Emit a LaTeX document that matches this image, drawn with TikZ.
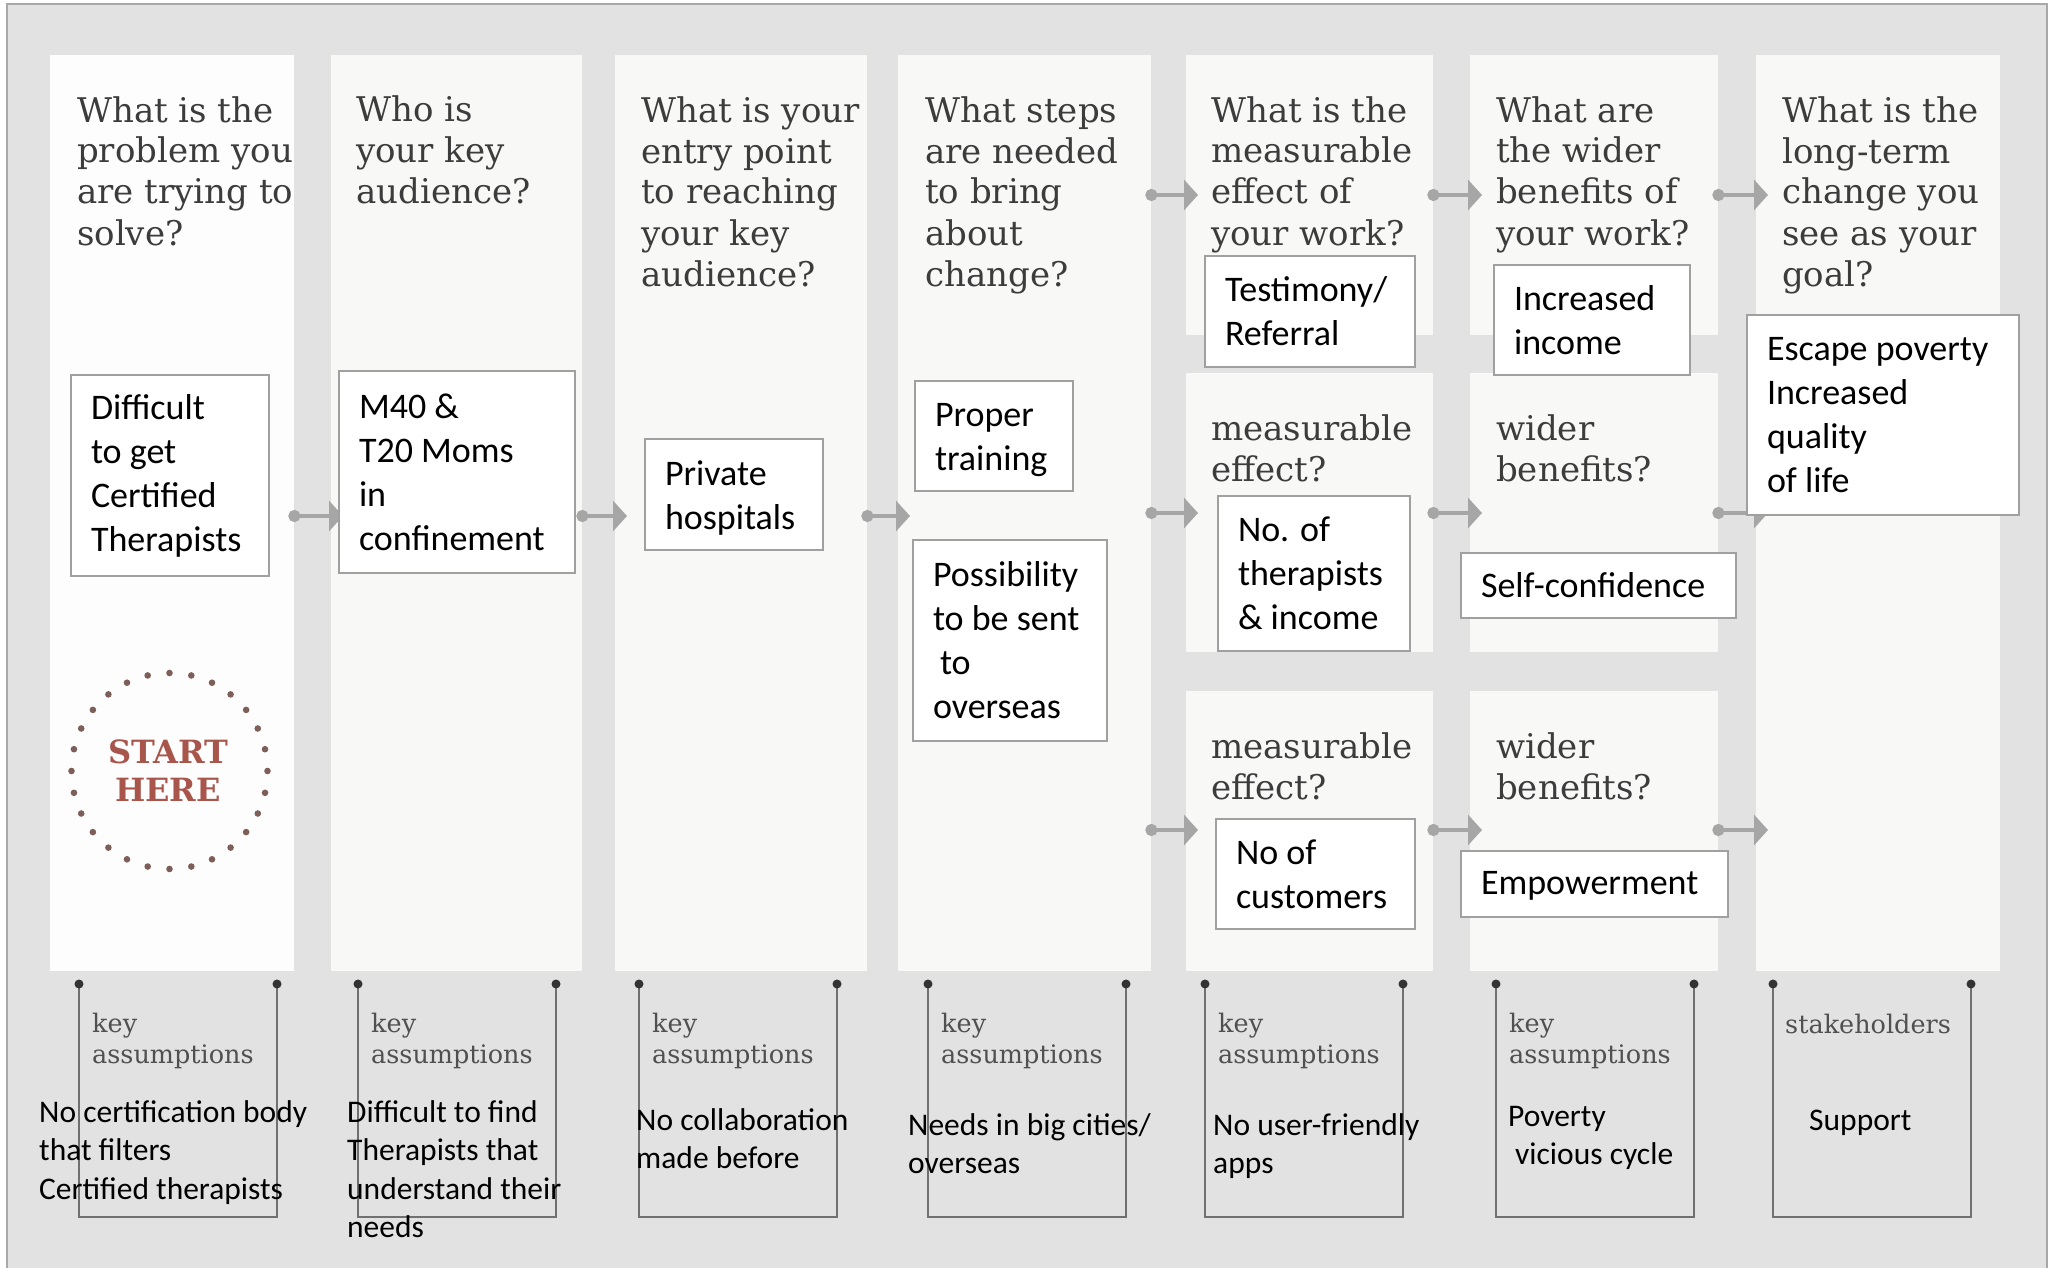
\documentclass[tikz,border=0pt]{standalone}
\usepackage{fontspec}
\setmainfont{Carlito}
\newfontfamily\slab{DejaVu Serif}
\usetikzlibrary{arrows.meta}

\definecolor{canvas}{HTML}{E2E2E2}
\definecolor{framecol}{HTML}{A8A8A8}
\definecolor{panelcol}{HTML}{F8F8F7}
\definecolor{panelwhite}{HTML}{FDFDFD}
\definecolor{flowcol}{HTML}{A6A6A6}
\definecolor{boxline}{HTML}{A0A0A0}
\definecolor{headcol}{HTML}{3C3C3C}
\definecolor{keycol}{HTML}{505050}
\definecolor{brackcol}{HTML}{707070}
\definecolor{brackdot}{HTML}{333333}
\definecolor{startred}{HTML}{A8554C}
\definecolor{dotbrown}{HTML}{7E5E59}

\newcommand\boxtxt{\fontsize{36pt}{44pt}\selectfont}
\newcommand\headtxt{\slab\fontsize{34pt}{41pt}\selectfont}
\newcommand\katxt{\slab\fontsize{25.5pt}{30.5pt}\selectfont}
\newcommand\bottxt{\fontsize{31.5pt}{38.5pt}\selectfont}
\newcommand\starttxt{\slab\bfseries\fontsize{32pt}{38pt}\selectfont}

\begin{document}
\begin{tikzpicture}[x=1pt,y=-1pt,
  panel/.style={fill=panelcol, draw=none, inner sep=0pt, anchor=north west},
  cbox/.style={draw=boxline, line width=2pt, fill=white, inner xsep=20pt, inner ysep=0pt,
               align=flush left, font=\boxtxt, text=black},
  % multi-line labels are anchored at the baseline of their last line
  head/.style={font=\headtxt, text=headcol, align=flush left, anchor=base west, inner sep=0pt},
  keylab/.style={font=\katxt, text=keycol, align=flush left, anchor=base west, inner sep=0pt},
  note/.style={font=\bottxt, text=black, align=flush left, anchor=base west, inner sep=0pt},
  flow/.style={draw=flowcol, line width=4pt,
               {Circle[length=12pt]}-{Triangle[length=14pt,width=30pt]}},
  bracket/.style={draw=brackcol, line width=2pt},
]
\useasboundingbox (0,0) rectangle (2059,1268);
\fill[white] (0,0) rectangle (2059,1268);
\fill[canvas] (7,4) rectangle (2047,1268);
\draw[framecol, line width=2pt] (7,1268) -- (7,4) -- (2047,4) -- (2047,1268);

% columns
\node[panel, fill=panelwhite, minimum width=244pt, minimum height=916pt] (c1) at (50,55) {};
\node[panel, minimum width=251pt, minimum height=916pt] (c2) at (331,55) {};
\node[panel, minimum width=252pt, minimum height=916pt] (c3) at (615,55) {};
\node[panel, minimum width=253pt, minimum height=916pt] (c4) at (898,55) {};
\node[panel, minimum width=247pt, minimum height=280pt] (c5a) at (1186,55) {};
\node[panel, minimum width=247pt, minimum height=279pt] (c5b) at (1186,373) {};
\node[panel, minimum width=247pt, minimum height=280pt] (c5c) at (1186,691) {};
\node[panel, minimum width=248pt, minimum height=280pt] (c6a) at (1470,55) {};
\node[panel, minimum width=248pt, minimum height=279pt] (c6b) at (1470,373) {};
\node[panel, minimum width=248pt, minimum height=280pt] (c6c) at (1470,691) {};
\node[panel, minimum width=244pt, minimum height=916pt] (c7) at (1756,55) {};

% rows of the flow arrows
\coordinate (rowmain) at (0,516);
\coordinate (rowtop) at (0,195);
\coordinate (rowmid) at (0,513);
\coordinate (rowlow) at (0,830);

\draw[flow] ([xshift=-6pt]c1.east |- rowmain) -- ([xshift=12pt]c2.west |- rowmain);
\draw[flow] ([xshift=-6pt]c2.east |- rowmain) -- ([xshift=12pt]c3.west |- rowmain);
\draw[flow] ([xshift=-6pt]c3.east |- rowmain) -- ([xshift=12pt]c4.west |- rowmain);
\draw[flow] ([xshift=-6pt]c4.east |- rowtop) -- ([xshift=12pt]c5a.west |- rowtop);
\draw[flow] ([xshift=-6pt]c4.east |- rowmid) -- ([xshift=12pt]c5b.west |- rowmid);
\draw[flow] ([xshift=-6pt]c4.east |- rowlow) -- ([xshift=12pt]c5c.west |- rowlow);
\draw[flow] ([xshift=-6pt]c5a.east |- rowtop) -- ([xshift=12pt]c6a.west |- rowtop);
\draw[flow] ([xshift=-6pt]c5b.east |- rowmid) -- ([xshift=12pt]c6b.west |- rowmid);
\draw[flow] ([xshift=-6pt]c5c.east |- rowlow) -- ([xshift=12pt]c6c.west |- rowlow);
\draw[flow] ([xshift=-6pt]c6a.east |- rowtop) -- ([xshift=12pt]c7.west |- rowtop);
\draw[flow] ([xshift=-6pt]c6b.east |- rowmid) -- ([xshift=12pt]c7.west |- rowmid);
\draw[flow] ([xshift=-6pt]c6c.east |- rowlow) -- ([xshift=12pt]c7.west |- rowlow);

% start badge
\coordinate (ring) at (169.5,771);
\foreach \k in {0,...,27}
  \fill[dotbrown] ([shift={(90+\k*360/28:98)}]ring) circle (3.3);
\node[font=\starttxt, text=startred, align=center, inner sep=0pt] (start) at (168,771) {START\\HERE};

% column questions
\node[head] (h1) at (77,245) {What is the\\problem you\\are trying to\\solve?};
\node[head] (h2) at (356,204) {Who is\\your key\\audience?};
\node[head] (h3) at (641,286) {What is your\\entry point\\to reaching\\your key\\audience?};
\node[head] (h4) at (925,286) {What steps\\are needed\\to bring\\about\\change?};
\node[head] (h5a) at (1211,245) {What is the\\measurable\\effect of\\your work?};
\node[head] (h6a) at (1496,245) {What are\\the wider\\benefits of\\your work?};
\node[head] (h7) at (1782,286) {What is the\\long-term\\change you\\see as your\\goal?};
\node[head] (h5b) at (1211,481) {measurable\\effect?};
\node[head] (h6b) at (1496,481) {wider\\benefits?};
\node[head] (h5c) at (1211,799) {measurable\\effect?};
\node[head] (h6c) at (1496,799) {wider\\benefits?};

% answers
\node[cbox, text width=158pt, minimum height=201pt] (b1) at (170,475.5) {Difficult\\to get\\Certified\\Therapists};
\node[cbox, text width=196pt, minimum height=202pt] (b2) at (457,472) {M40 \&\\T20 Moms\\in\\confinement};
\node[cbox, text width=138pt, minimum height=111pt, text depth=43pt] (b3) at (734,494.5) {Private\\hospitals};
\node[cbox, text width=118pt, minimum height=110pt, text depth=43pt] (b4a) at (994,436) {Proper\\training};
\node[cbox, text width=154pt, minimum height=201pt] (b4b) at (1010,640.5) {Possibility\\to be sent\\\hspace*{7pt}to\\overseas};
\node[cbox, text width=170pt, minimum height=111pt] (b5a) at (1310,311.5) {Testimony/\\Referral};
\node[cbox, text width=156pt, minimum height=110pt] (b6a) at (1592,320) {Increased\\income};
\node[cbox, text width=232pt, minimum height=200pt] (b7) at (1883,415) {Escape poverty\\Increased\\quality\\of life};
\node[cbox, text width=152pt, minimum height=155pt] (b5b) at (1314,573.5) {No. of\\therapists\\\& income};
\node[cbox, text width=235pt, minimum height=65pt, text depth=2pt] (b6b) at (1598.5,585.5) {Self-confidence};
\node[cbox, text width=159pt, minimum height=110pt] (b5c) at (1315.5,874) {No of\\customers};
\node[cbox, text width=227pt, minimum height=66pt, text depth=2pt] (b6c) at (1594.5,884) {Empowerment};

% assumption brackets
\foreach \bx in {79,358,639,928,1205,1496,1773} {
  \draw[bracket] (\bx,984) -- (\bx,1217) -- (\bx+198,1217) -- (\bx+198,984);
  \fill[brackdot] (\bx,984) circle (4.5);
  \fill[brackdot] (\bx+198,984) circle (4.5);
}
\node[keylab] (k1) at (92,1063) {key\\assumptions};
\node[keylab] (k2) at (371,1063) {key\\assumptions};
\node[keylab] (k3) at (652,1063) {key\\assumptions};
\node[keylab] (k4) at (941,1063) {key\\assumptions};
\node[keylab] (k5) at (1218,1063) {key\\assumptions};
\node[keylab] (k6) at (1509,1063) {key\\assumptions};
\node[keylab] (k7) at (1785,1033) {stakeholders};

\node[note] (n1) at (39,1199) {No certification body\\that filters\\Certified therapists};
\node[note] (n2) at (347,1237.5) {Difficult to find\\Therapists that\\understand their\\needs};
\node[note] (n3) at (636,1168.5) {No collaboration\\made before};
\node[note] (n4) at (908,1173.5) {Needs in big cities/\\overseas};
\node[note] (n5) at (1213,1173.5) {No user-friendly\\apps};
\node[note] (n6) at (1508,1164.5) {Poverty\\\hspace*{7pt}vicious cycle};
\node[note] (n7) at (1809,1130) {Support};
\end{tikzpicture}
\end{document}
